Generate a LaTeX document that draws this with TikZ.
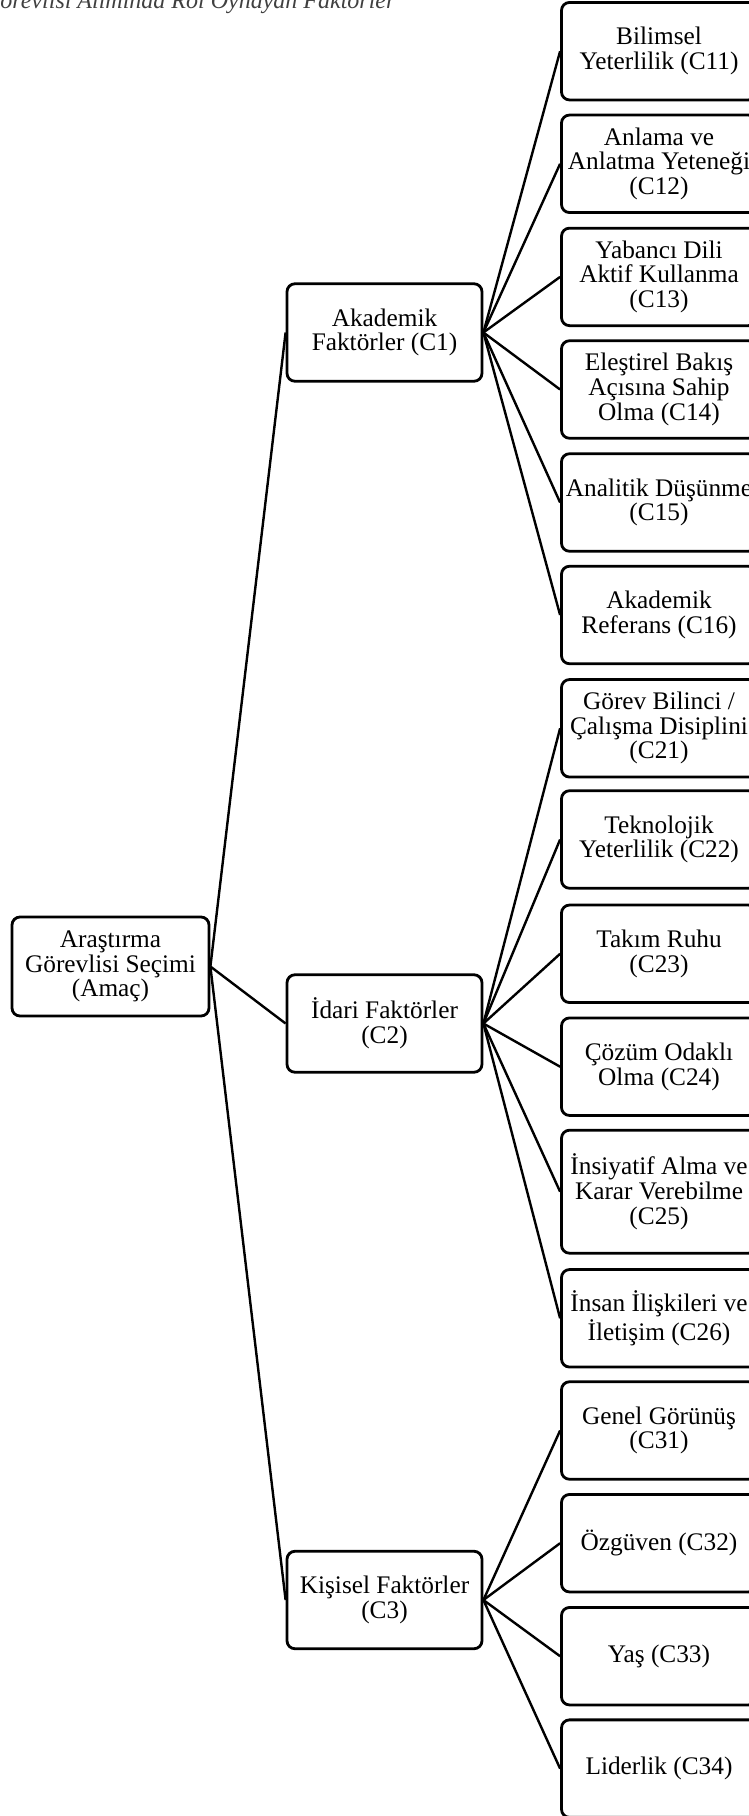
\documentclass[tikz,border=0pt]{standalone}
\usepackage{fontspec}
\setmainfont{Liberation Serif}
\usetikzlibrary{positioning}
\colorlet{box edge}{black}
\colorlet{caption text}{black!75}
\tikzset{
    factor/.style={draw=box edge, line width=1.4pt, rounded corners=4pt, align=center, inner sep=2pt,
        minimum width=97.5pt, minimum height=48.75pt, font=\fontsize{12.65}{12.3}\selectfont},
    link/.style={draw=box edge, line width=1.2pt}
}

\begin{document}
\begin{tikzpicture}[x=0.5pt, y=-0.5pt]
    % Fix the page to the size of the reference
    \useasboundingbox (0,0) rectangle (749,1816);
    \clip (0,0) rectangle (749,1816);

    % Caption, cut off at the top
    \node[anchor=base west, inner sep=0pt, text=caption text, font=\fontsize{12}{12}\selectfont\itshape] (caption) at (0,8) {örevlisi Alımında Rol Oynayan Faktörler};

    % Goal
    \node[factor, minimum width=98.5pt, minimum height=49.5pt] (goal) at (110.5,966.5) {Araştırma\\Görevlisi Seçimi\\(Amaç)};

    % Main criteria
    \node[factor] (c1) at (384.5,332.5) {Akademik\\Faktörler (C1)};
    \node[factor] (c2) at (384.5,1023.5) {İdari Faktörler\\(C2)};
    \node[factor] (c3) at (384.5,1600) {Kişisel Faktörler\\(C3)};

    % Sub criteria of C1
    \node[factor] (c11) at (659,51.2) {Bilimsel\\Yeterlilik (C11)};
    \node[factor] (c12) at (659,163.8) {Anlama ve\\Anlatma Yeteneği\\(C12)};
    \node[factor] (c13) at (659,276.9) {Yabancı Dili\\Aktif Kullanma\\(C13)};
    \node[factor] (c14) at (659,389.5) {Eleştirel Bakış\\Açısına Sahip\\Olma (C14)};
    \node[factor] (c15) at (659,502.5) {Analitik Düşünme\\(C15)};
    \node[factor] (c16) at (659,615) {Akademik\\Referans (C16)};

    % Sub criteria of C2
    \node[factor] (c21) at (659,728.3) {Görev Bilinci /\\Çalışma Disiplini\\(C21)};
    \node[factor] (c22) at (659,839.5) {Teknolojik\\Yeterlilik (C22)};
    \node[factor] (c23) at (659,953.8) {Takım Ruhu\\(C23)};
    \node[factor] (c24) at (659,1066.7) {Çözüm Odaklı\\Olma (C24)};
    \node[factor, minimum height=61.5pt] (c25) at (659,1191.7) {İnsiyatif Alma ve\\Karar Verebilme\\(C25)};
    \node[factor] (c26) at (659,1318.3) {İnsan İlişkileri ve\\İletişim (C26)};

    % Sub criteria of C3
    \node[factor] (c31) at (659,1430.5) {Genel Görünüş\\(C31)};
    \node[factor] (c32) at (659,1543.2) {Özgüven (C32)};
    \node[factor] (c33) at (659,1656.2) {Yaş (C33)};
    \node[factor] (c34) at (659,1768.6) {Liderlik (C34)};

    % Connect the levels
    \foreach \m in {1,2,3}
        \draw[link] (goal.east) -- (c\m.west);
    \foreach \m/\n in {1/11,1/12,1/13,1/14,1/15,1/16,2/21,2/22,2/23,2/24,2/25,2/26,3/31,3/32,3/33,3/34}
        \draw[link] (c\m.east) -- (c\n.west);
\end{tikzpicture}
\end{document}
